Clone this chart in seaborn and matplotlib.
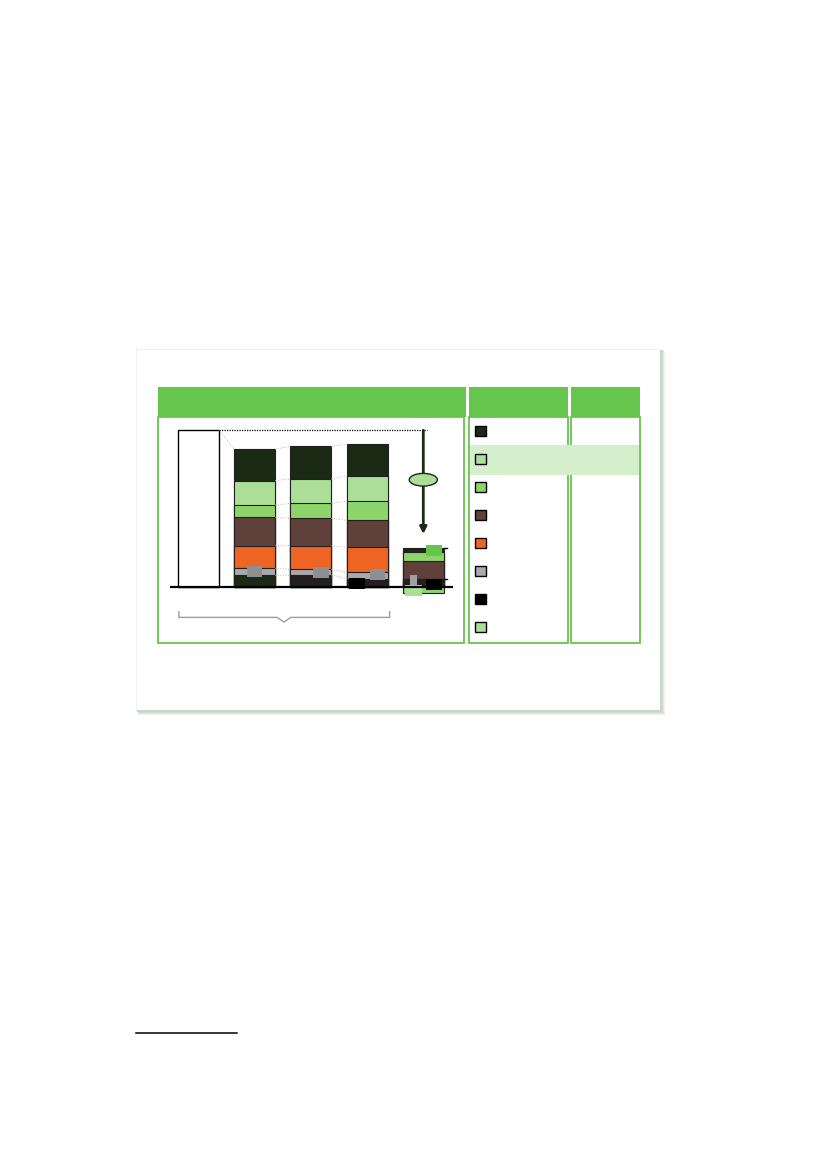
import numpy as np
import pandas as pd
import matplotlib
matplotlib.use("Agg")
import matplotlib.pyplot as plt
from matplotlib.patches import Rectangle, Ellipse
import seaborn as sns

# bar positions (no visible labels in the source, names are internal)
categories = ["start", "bar1", "bar2", "bar3", "change"]
start_total = 100.0

# stacked layers for bar1..bar3 and the change bar, bottom -> top
layer_names = ["bottom", "grey", "orange", "brown", "mid_green", "light_green", "dark_green"]
bottom = [7.3, 7.5, 5.1, 4.7]
grey = [4.5, 3.6, 4.1, 0.0]
orange = [14.5, 15.1, 16.0, 0.4]
brown = [18.2, 17.5, 17.3, 11.1]
mid_green = [7.7, 9.6, 12.1, 5.9]
light_green = [15.7, 15.7, 16.4, 0.0]
dark_green = [20.1, 20.7, 20.3, 2.6]
change_negative = -4.2
change_arrow_end = 33.7

DKGREEN = "#1b2a14"
LTGREEN = "#abdf98"
MDGREEN = "#8dd46b"
BROWN = "#5f403b"
ORANGE = "#ee6523"
GREY = "#a7a9ac"
NEARBLACK = "#231f20"
HEAD = "#66c54c"
HILITE = "#d5eecb"

layer_colors = {
    "bottom": [DKGREEN, NEARBLACK, NEARBLACK, NEARBLACK],
    "grey": [GREY] * 4,
    "orange": [ORANGE] * 4,
    "brown": [BROWN] * 4,
    "mid_green": [MDGREEN] * 4,
    "light_green": [LTGREEN] * 4,
    "dark_green": [DKGREEN] * 4,
}
legend_colors = [DKGREEN, LTGREEN, MDGREEN, BROWN, ORANGE, GREY, "#000000", LTGREEN]

layers = dict(zip(layer_names, [bottom, grey, orange, brown, mid_green, light_green, dark_green]))
stack = np.cumsum(np.array([layers[n] for n in layer_names]), axis=0)  # shape (layers, bars)

fig = plt.figure(figsize=(8.27, 11.69), dpi=100)

# ---- page decoration in pixel coordinates ----
bg = fig.add_axes([0, 0, 1, 1])
bg.set_xlim(0, 827)
bg.set_ylim(1169, 0)
bg.axis("off")

# soft shadow, heavier to the right and bottom
bg.add_patch(Rectangle((136, 348.5), 524.5, 362, fc="#eef1ef", ec="none"))
for off, col in [(5.0, "#edf1ee"), (4.0, "#e0e7e2"), (3.0, "#d3ddd6"), (2.0, "#c8d4cc")]:
    bg.add_patch(Rectangle((137 + off * 0.2, 349.5 + off * 0.2), 522.5 + off * 0.8, 360 + off * 0.8,
                           fc=col, ec="none"))
bg.add_patch(Rectangle((137, 349.5), 522.5, 360, fc="white", ec="none"))

panels = [(158, 464.3, 465.6), (469, 567.7, 567.7), (571, 639.7, 639.7)]
for x0, x1, hx1 in panels:
    bg.add_patch(Rectangle((x0, 416.7), x1 - x0, 643.3 - 416.7, fc="white", ec=HEAD, lw=1.3))
    bg.add_patch(Rectangle((x0, 387), hx1 - x0, 416.7 - 387, fc=HEAD, ec="none"))
bg.add_patch(Rectangle((469.6, 445), 639.2 - 469.6, 30, fc=HILITE, ec="none"))

for i, c in enumerate(legend_colors):
    yc = 431.3 + 28 * i
    bg.add_patch(Rectangle((475.2, yc - 5.2), 10.4, 10.3, fc=c, ec="black", lw=1.0))

bg.plot([136, 236.7], [1033.3, 1033.3], color="black", lw=1.1)

# ---- stacked bar chart ----
px_l, px_r, px_t, px_b = 170, 452.7, 425, 626
ax = fig.add_axes([px_l / 827, (1169 - px_b) / 1169, (px_r - px_l) / 827, (px_b - px_t) / 1169])
ax.set_facecolor("none")

width = 0.73
edge = NEARBLACK

sns.barplot(x=[categories[0]], y=[start_total], order=categories, color="white",
            edgecolor="black", linewidth=1.0, width=width, saturation=1, ax=ax)

bar_cats = categories[1:]
for k in range(len(layer_names) - 1, -1, -1):
    df = pd.DataFrame({"cat": bar_cats, "val": stack[k]})
    pal = dict(zip(bar_cats, layer_colors[layer_names[k]]))
    sns.barplot(data=df, x="cat", y="val", hue="cat", palette=pal, order=categories,
                hue_order=bar_cats, dodge=False, legend=False, width=width,
                edgecolor=edge, linewidth=0.8, saturation=1, ax=ax)

sns.barplot(x=[categories[4]], y=[change_negative], order=categories, color=MDGREEN,
            edgecolor=edge, linewidth=0.8, width=width, saturation=1, ax=ax)

ax.set_xlim(-0.507, 4.523)
ax.set_ylim(-25.1, 103.4)
ax.axhline(0, color="black", lw=1.6, zorder=5)

# connector lines between bar1..bar3
half = width / 2
ax.plot([0 + half, 1 - half], [start_total, stack[-1, 0]], color="#b5b5b5", lw=0.7, ls=":")
for j in range(2):
    for k in range(len(layer_names)):
        ax.plot([j + 1 + half, j + 2 - half], [stack[k, j], stack[k, j + 1]],
                color="#b5b5b5", lw=0.7, ls=":")

# dotted reference line and arrow to the change bar
ax.plot([0 + half, 4.06], [start_total, start_total], color="black", lw=0.9, ls=(0, (1, 1)))
ax.annotate("", xy=(4, change_arrow_end), xytext=(4, start_total),
            arrowprops=dict(arrowstyle="-|>", color=DKGREEN, lw=2, mutation_scale=10,
                            shrinkA=0, shrinkB=0))
ax.add_patch(Ellipse((4, 68.4), 0.5, 8.1, fc=LTGREEN, ec=DKGREEN, lw=1, zorder=6))

# small ticks at the right side of the change bar
for yv in [stack[-1, 3], bottom[3] + orange[3]]:
    ax.plot([4 + half, 4.43], [yv, yv], color="black", lw=1)

# label placeholder boxes (texts absent in the source)
def mid(k, j):
    lo = stack[k - 1, j] if k > 0 else 0
    return (lo + stack[k, j]) / 2

boxes = [
    (1, 0.0, mid(1, 0), "#8e8f93", 0.27),
    (2, 0.18, mid(1, 1), "#8e8f93", 0.27),
    (3, 0.18, mid(1, 2) + 0.6, "#8e8f93", 0.27),
    (3, -0.18, mid(0, 2) - 0.2, "black", 0.27),
    (4, 0.19, stack[-1, 3] - 1.6, HEAD, 0.27),
    (4, -0.17, mid(0, 3) + 1.6, "#a0a0a2", 0.13),
    (4, 0.19, mid(0, 3) - 0.7, "black", 0.27),
    (4, -0.17, change_negative / 2 - 0.4, LTGREEN, 0.3),
]
for pos, dx, yc, c, w in boxes:
    ax.add_patch(Rectangle((pos + dx - w / 2, yc - 3.5), w, 7, fc=c, ec="none", zorder=4))

# bracket under bar1..bar3
bx0, bx1, bmid = -0.35, 3.4, 1.52
ax.plot([bx0, bx0, bmid - 0.12, bmid, bmid + 0.12, bx1, bx1],
        [-16.0, -19.6, -19.6, -22.6, -19.6, -19.6, -16.0], color="#9d9d9d", lw=1, clip_on=False)

ax.axis("off")

plt.savefig("out.png", dpi=100)
